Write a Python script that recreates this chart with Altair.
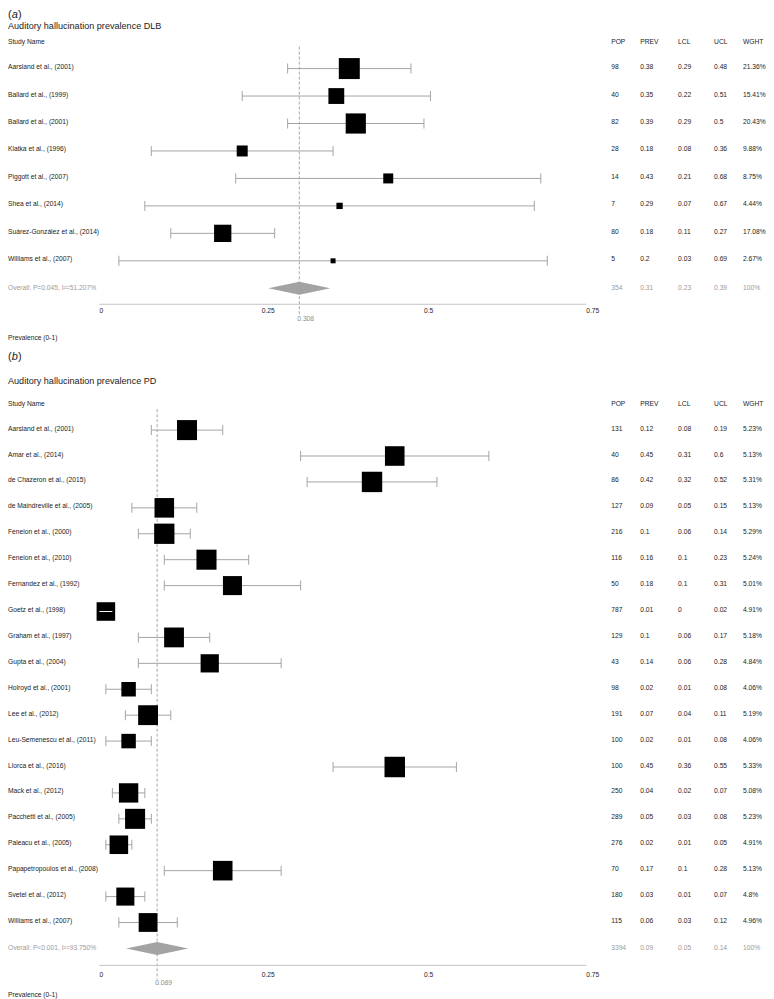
import altair as alt
import pandas as pd

# ---------------- data: (a) DLB ----------------
dlb_study = ["Aarsland et al., (2001)", "Ballard et al., (1999)", "Ballard et al., (2001)",
             "Klatka et al., (1996)", "Piggott et al., (2007)", "Shea et al., (2014)",
             "Suárez-González et al., (2014)", "Williams et al., (2007)"]
dlb_pop = [98, 40, 82, 28, 14, 7, 80, 5]
dlb_prev = [0.38, 0.35, 0.39, 0.18, 0.43, 0.29, 0.18, 0.2]
dlb_lcl = [0.29, 0.22, 0.29, 0.08, 0.21, 0.07, 0.11, 0.03]
dlb_ucl = [0.48, 0.51, 0.5, 0.36, 0.68, 0.67, 0.27, 0.69]
dlb_wght = [21.36, 15.41, 20.43, 9.88, 8.75, 4.44, 17.08, 2.67]
dlb_overall = ["Overall: P=0.045, I²=51.207%", 354, 0.31, 0.23, 0.39, 100]
dlb_estimate = 0.308

# ---------------- data: (b) PD ----------------
pd_study = ["Aarsland et al., (2001)", "Amar et al., (2014)", "de Chazeron et al., (2015)",
            "de Maindreville et al., (2005)", "Fenelon et al., (2000)", "Fenelon et al., (2010)",
            "Fernandez et al., (1992)", "Goetz et al., (1998)", "Graham et al., (1997)",
            "Gupta et al., (2004)", "Holroyd et al., (2001)", "Lee et al., (2012)",
            "Leu-Semenescu et al., (2011)", "Llorca et al., (2016)", "Mack et al., (2012)",
            "Pacchetti et al., (2005)", "Paleacu et al., (2005)", "Papapetropoulos et al., (2008)",
            "Svetel et al., (2012)", "Williams et al., (2007)"]
pd_pop = [131, 40, 86, 127, 216, 116, 50, 787, 129, 43, 98, 191, 100, 100, 250, 289, 276, 70, 180, 115]
pd_prev = [0.12, 0.45, 0.42, 0.09, 0.1, 0.16, 0.18, 0.01, 0.1, 0.14, 0.02, 0.07, 0.02, 0.45,
           0.04, 0.05, 0.02, 0.17, 0.03, 0.06]
pd_lcl = [0.08, 0.31, 0.32, 0.05, 0.06, 0.1, 0.1, 0, 0.06, 0.06, 0.01, 0.04, 0.01, 0.36,
          0.02, 0.03, 0.01, 0.1, 0.01, 0.03]
pd_ucl = [0.19, 0.6, 0.52, 0.15, 0.14, 0.23, 0.31, 0.02, 0.17, 0.28, 0.08, 0.11, 0.08, 0.55,
          0.07, 0.08, 0.05, 0.28, 0.07, 0.12]
pd_wght = [5.23, 5.13, 5.31, 5.13, 5.29, 5.24, 5.01, 4.91, 5.18, 4.84, 4.06, 5.19, 4.06, 5.33,
           5.08, 5.23, 4.91, 5.13, 4.8, 4.96]
pd_overall = ["Overall: P<0.001, I²=93.750%", 3394, 0.09, 0.05, 0.14, 100]
pd_estimate = 0.089

axis_ticks = [0, 0.25, 0.5, 0.75]
axis_tick_labels = ["0", "0.25", "0.5", "0.75"]
columns = ["POP", "PREV", "LCL", "UCL", "WGHT"]

# ---------------- style ----------------
FONT = "Liberation Sans"
FS = 6.7
TXT = "#222222"
GREY_TXT = "#9a9a9a"
CI_COL = "#a4a4a4"
W, H = 758, 991
XS = alt.Scale(domain=[-0.14077, 1.02538], nice=False, zero=False)
COL_X = {"POP": 604, "PREV": 633, "LCL": 671, "UCL": 707, "WGHT": 736}


def X(field, **kw):
    return alt.X(field, type="quantitative", scale=XS, axis=None, **kw)


def panel(study, pop, prev, lcl, ucl, wght, overall, estimate, tag, title, pos, side_range):
    n = len(study)
    df = pd.DataFrame({"Study": study, "POP": pop, "PREV": prev, "LCL": lcl,
                       "UCL": ucl, "WGHT": wght, "Row": list(range(n))})
    odf = pd.DataFrame([dict(zip(["Study", "POP", "PREV", "LCL", "UCL", "WGHT"], overall))])
    odf["EST"] = estimate
    odf["Row"] = n
    # row order (top to bottom) mapped to the panel's vertical extent
    Y = alt.Y("Row:Q", scale=alt.Scale(domain=[0, n], range=[pos["row0"], pos["overall"]],
                                       nice=False, zero=False),
              axis=None)
    one = pd.DataFrame({"k": [0]})
    layers = []

    # tag "(a)" and title
    layers.append(alt.Chart(one).mark_text(text="(", font=FONT, fontSize=11, align="left",
                                           baseline="middle", color=TXT)
                  .encode(x=alt.value(0), y=alt.value(pos["tag"])))
    layers.append(alt.Chart(one).mark_text(text=tag, font=FONT, fontSize=11, fontStyle="italic",
                                           align="left", baseline="middle", color=TXT)
                  .encode(x=alt.value(3.8), y=alt.value(pos["tag"])))
    layers.append(alt.Chart(one).mark_text(text=")", font=FONT, fontSize=11, align="left",
                                           baseline="middle", color=TXT)
                  .encode(x=alt.value(9.9), y=alt.value(pos["tag"])))
    layers.append(alt.Chart(one).mark_text(text=title, font=FONT, fontSize=9.1, align="left",
                                           baseline="middle", color=TXT)
                  .encode(x=alt.value(0), y=alt.value(pos["title"])))
    # header
    layers.append(alt.Chart(one).mark_text(text="Study Name", font=FONT, fontSize=FS, align="left",
                                           baseline="middle", color=TXT)
                  .encode(x=alt.value(0), y=alt.value(pos["header"])))
    for c in columns:
        layers.append(alt.Chart(one).mark_text(text=c, font=FONT, fontSize=FS, align="left",
                                               baseline="middle", color=TXT)
                      .encode(x=alt.value(COL_X[c]), y=alt.value(pos["header"])))

    # dashed reference line at pooled estimate
    layers.append(alt.Chart(one).mark_rule(color="#9c9c9c", strokeDash=[3, 2], strokeWidth=0.9)
                  .encode(x=alt.X(datum=estimate, type="quantitative", scale=XS, axis=None),
                          y=alt.value(pos["header"] + 5), y2=alt.value(pos["est"] - 4)))

    # CI lines and caps
    base = alt.Chart(df)
    layers.append(base.mark_rule(color=CI_COL, strokeWidth=1)
                  .encode(x=X("LCL"), x2="UCL:Q", y=Y))
    layers.append(base.mark_tick(color=CI_COL, size=10, thickness=1, orient="vertical", opacity=1)
                  .encode(x=X("LCL"), y=Y))
    layers.append(base.mark_tick(color=CI_COL, size=10, thickness=1, orient="vertical", opacity=1)
                  .encode(x=X("UCL"), y=Y))
    # boxes (centred on the CI midpoint, sized by weight)
    layers.append(base.transform_calculate(MID="(datum.LCL + datum.UCL) / 2")
                  .mark_square(color="black", filled=True, opacity=1, strokeWidth=0)
                  .encode(x=X("MID"), y=Y,
                          size=alt.Size("WGHT:Q", legend=None,
                                        scale=alt.Scale(type="pow", exponent=1.8,
                                                        domain=[min(wght), max(wght)],
                                                        range=[side_range[0] ** 2, side_range[1] ** 2]))))
    # white line where the CI is narrower than the box
    layers.append(base.transform_filter("datum.UCL - datum.LCL < 0.025")
                  .mark_rule(color="white", strokeWidth=1)
                  .encode(x=X("LCL"), x2="UCL:Q", y=Y))

    # study names and table
    layers.append(base.mark_text(font=FONT, fontSize=FS, align="left", baseline="middle",
                                 color=TXT, dy=-1.5)
                  .encode(x=alt.value(0), y=Y, text="Study:N"))
    for c in columns:
        ch = base
        tf = c + ":N"
        if c == "WGHT":
            ch = base.transform_calculate(WL="datum.WGHT + '%'")
            tf = "WL:N"
        layers.append(ch.mark_text(font=FONT, fontSize=FS, align="left", baseline="middle",
                                   color=TXT, dy=-1.5)
                      .encode(x=alt.value(COL_X[c]), y=Y, text=tf))

    # overall row
    obase = alt.Chart(odf)
    layers.append(obase.mark_point(shape="M-1,0L0,-0.21L1,0L0,0.21Z", size=3844, filled=True,
                                   color="#a3a3a3", opacity=1, strokeWidth=0)
                  .encode(x=X("EST"), y=Y))
    layers.append(obase.mark_text(font=FONT, fontSize=FS, align="left", baseline="middle",
                                  color=GREY_TXT)
                  .encode(x=alt.value(0), y=Y, text="Study:N"))
    for c in columns:
        ch = obase
        tf = c + ":N"
        if c == "WGHT":
            ch = obase.transform_calculate(WL="datum.WGHT + '%'")
            tf = "WL:N"
        layers.append(ch.mark_text(font=FONT, fontSize=FS, align="left", baseline="middle",
                                   color=GREY_TXT)
                      .encode(x=alt.value(COL_X[c]), y=Y, text=tf))

    # x axis drawn as a line with left-aligned labels
    tdf = pd.DataFrame({"t": axis_ticks, "lab": axis_tick_labels})
    layers.append(alt.Chart(tdf).mark_rule(color="#c4c4c4", strokeWidth=1)
                  .encode(x=alt.X("min(t):Q", scale=XS, axis=None), x2="max(t):Q",
                          y=alt.value(pos["axis"])))
    layers.append(alt.Chart(tdf).mark_text(font=FONT, fontSize=FS, align="left", baseline="middle",
                                           color=TXT)
                  .encode(x=X("t"), y=alt.value(pos["ticks"]), text="lab:N"))
    layers.append(alt.Chart(one).mark_text(text=str(estimate), font=FONT, fontSize=FS, align="left",
                                           baseline="middle", color="#8a8a8a", dx=-2)
                  .encode(x=alt.X(datum=estimate, type="quantitative", scale=XS, axis=None),
                          y=alt.value(pos["est"])))
    layers.append(alt.Chart(one).mark_text(text="Prevalence (0-1)", font=FONT, fontSize=FS,
                                           align="left", baseline="middle", color=TXT)
                  .encode(x=alt.value(0), y=alt.value(pos["prev"])))
    return alt.layer(*layers)


pos_a = dict(tag=5.5, title=16, header=32, row0=59, overall=279, axis=295, ticks=302, est=310, prev=329)
pos_b = dict(tag=348, title=372, header=395, row0=421, overall=940, axis=957, ticks=967, est=975, prev=987)

panel_a = panel(dlb_study, dlb_pop, dlb_prev, dlb_lcl, dlb_ucl, dlb_wght, dlb_overall, dlb_estimate,
                "a", "Auditory hallucination prevalence DLB", pos_a, (5, 21))
panel_b = panel(pd_study, pd_pop, pd_prev, pd_lcl, pd_ucl, pd_wght, pd_overall, pd_estimate,
                "b", "Auditory hallucination prevalence PD", pos_b, (14.5, 20.5))

chart = (alt.layer(panel_a, panel_b)
         .resolve_scale(y="independent", size="independent")
         .properties(width=W, height=H, padding=0,
                     autosize=alt.AutoSizeParams(type="pad"))
         .configure_view(stroke=None)
         .configure_text(font=FONT))

chart.save("out.html", embed_options={"renderer": "svg", "actions": False})
